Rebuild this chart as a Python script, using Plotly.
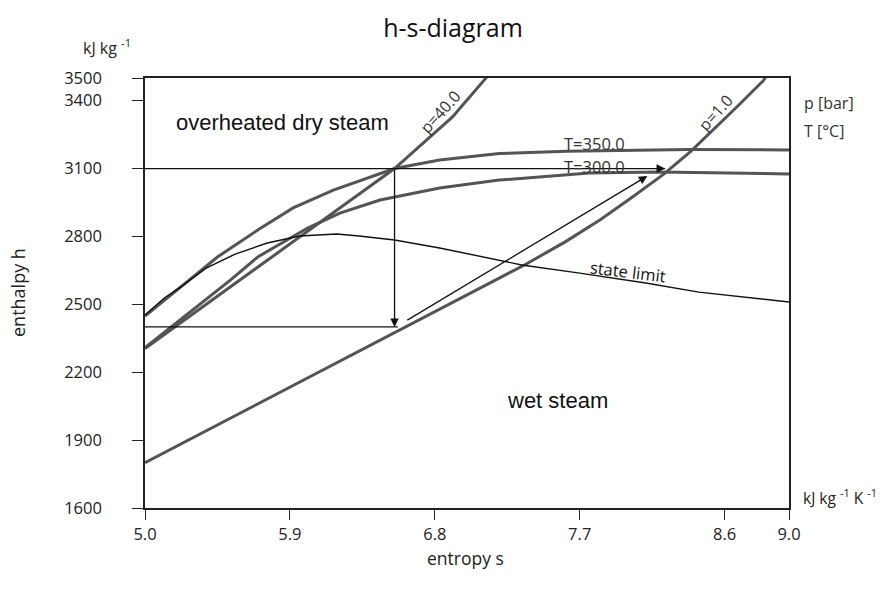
import plotly.graph_objects as go

# --- isobar p = 1.0 bar (entropy s in kJ/(kg K), enthalpy h in kJ/kg)
s_p1 = [5.0, 7.36, 7.61, 7.83, 8.03, 8.22, 8.39, 8.54, 8.69, 8.84, 8.86]
h_p1 = [1800, 2675, 2776, 2875, 2975, 3074, 3176, 3278, 3382, 3488, 3510]

# --- isobar p = 40.0 bar
s_p40 = [5.0, 6.55, 6.91, 7.11, 7.16]
h_p40 = [2305, 3100, 3328, 3491, 3535]

# --- isotherm T = 350 °C
s_t350 = [5.0, 5.22, 5.45, 5.70, 5.92, 6.17, 6.55, 6.83, 7.20, 7.62, 8.38, 9.0]
h_t350 = [2448, 2576, 2709, 2828, 2926, 3005, 3100, 3138, 3166, 3176, 3184, 3182]

# --- isotherm T = 300 °C
s_t300 = [5.0, 5.53, 5.70, 6.01, 6.21, 6.46, 6.83, 7.20, 7.76, 8.19, 9.0]
h_t300 = [2308, 2607, 2709, 2837, 2903, 2961, 3014, 3049, 3080, 3085, 3076]

# --- saturated vapour line (state limit)
s_sat = [5.0, 5.12, 5.22, 5.38, 5.56, 5.76, 5.96, 6.19, 6.33, 6.55, 6.83, 7.14, 7.34,
         7.70, 8.11, 8.44, 9.0]
h_sat = [2453, 2528, 2576, 2660, 2722, 2771, 2802, 2811, 2802, 2784, 2749, 2705, 2674,
         2638, 2594, 2554, 2510]

# --- process path: expansion and re-heating
h_high = 3100
h_low = 2400
s_expand = 6.55
s_low_end = 6.57
s_high_end = 8.23
s_reheat = [6.62, 8.12]
h_reheat = [2426, 3067]

# --- axes
x_ticks = [5.0, 5.9, 6.8, 7.7, 8.6, 9.0]
y_ticks = [1600, 1900, 2200, 2500, 2800, 3100, 3400, 3500]
x_range = [5.0, 9.0]
y_range = [1600, 3500]

W, H = 880, 590
ML, MR, MT, MB = 145, 91, 78, 82
PW, PH = W - ML - MR, H - MT - MB


def px(x):
    return (x - ML) / PW


def py(y):
    return (H - MB - y) / PH


CURVE = "#545454"
TXT = "Open Sans"

fig = go.Figure()

for s, h in [(s_t350, h_t350), (s_t300, h_t300), (s_p40, h_p40), (s_p1, h_p1)]:
    fig.add_trace(go.Scatter(x=s, y=h, mode="lines",
                             line=dict(color=CURVE, width=3), hoverinfo="skip"))

fig.add_trace(go.Scatter(x=s_sat, y=h_sat, mode="lines",
                         line=dict(color="#111111", width=1.4), hoverinfo="skip"))

# horizontal reference lines of the process
fig.add_trace(go.Scatter(x=[x_range[0], s_high_end], y=[h_high, h_high], mode="lines",
                         line=dict(color="#111111", width=1.3), hoverinfo="skip"))
fig.add_trace(go.Scatter(x=[x_range[0], s_low_end], y=[h_low, h_low], mode="lines",
                         line=dict(color="#111111", width=1.3), hoverinfo="skip"))

arrow = dict(xref="x", yref="y", axref="x", ayref="y", showarrow=True, text="",
             arrowhead=2, arrowsize=1.3, arrowwidth=1.3, arrowcolor="#111111")
fig.add_annotation(x=s_high_end, y=h_high, ax=s_high_end - 0.05, ay=h_high, **arrow)
fig.add_annotation(x=s_expand, y=h_low, ax=s_expand, ay=h_high, **arrow)
fig.add_annotation(x=s_reheat[1], y=h_reheat[1], ax=s_reheat[0], ay=h_reheat[0], **arrow)

ann = []


def label(text, x, y, size=14, color="#333333", family=TXT, angle=0, xanchor="center"):
    ann.append(dict(text=text, x=px(x), y=py(y), xref="paper", yref="paper",
                    showarrow=False, textangle=angle, xanchor=xanchor, yanchor="middle",
                    font=dict(family=family, size=size, color=color)))


label("overheated dry steam", 282, 123, size=22, color="#111111", family="Liberation Sans")
label("wet steam", 557, 400, size=22, color="#111111", family="Liberation Sans")
label("state limit", 628, 271, size=16.5, color="#111111", angle=7)
label("T=350.0", 594, 143, size=16.5)
label("T=300.0", 594, 166, size=16.5)
label("p=40.0", 440, 112, size=16, angle=-48)
label("p=1.0", 715, 113, size=16, angle=-48)
label("p [bar]", 802, 103, size=16, xanchor="left")
label("T [°C]", 802, 131, size=16, xanchor="left")
label("kJ kg <sup>-1</sup>", 81, 47, size=16, color="#222222", xanchor="left")
label("kJ kg <sup>-1</sup> K <sup>-1</sup>", 801, 497, size=15.5, color="#222222",
      xanchor="left")
label("enthalpy h", 18, 292, size=18, color="#222222", angle=-90)
label("entropy s", 465, 558, size=17.5, color="#222222")

fig.update_layout(
    width=W, height=H,
    margin=dict(l=ML, r=MR, t=MT, b=MB),
    paper_bgcolor="white", plot_bgcolor="white",
    showlegend=False,
    title=dict(text="h-s-diagram", x=453 / W, xanchor="center", y=1 - 28 / H,
               yanchor="middle", font=dict(family=TXT, size=25, color="#111111")),
    annotations=list(fig.layout.annotations) + ann,
)

fig.update_xaxes(range=x_range, tickvals=x_ticks, ticktext=[f"{v:.1f}" for v in x_ticks],
                 showgrid=False, zeroline=False, showline=True, mirror=True,
                 linecolor="#222222", linewidth=1.5, ticks="outside", ticklen=10,
                 tickcolor="#222222", tickwidth=1.3,
                 tickfont=dict(family=TXT, size=16.5, color="#222222"))
fig.update_yaxes(range=y_range, tickvals=y_ticks, ticktext=[str(v) for v in y_ticks],
                 showgrid=False, zeroline=False, showline=True, mirror=True,
                 linecolor="#222222", linewidth=1.5, ticks="outside", ticklen=11,
                 tickcolor="#222222", tickwidth=1.3, ticklabelstandoff=27,
                 tickfont=dict(family=TXT, size=16.5, color="#222222"))

fig.write_html("out.html")
